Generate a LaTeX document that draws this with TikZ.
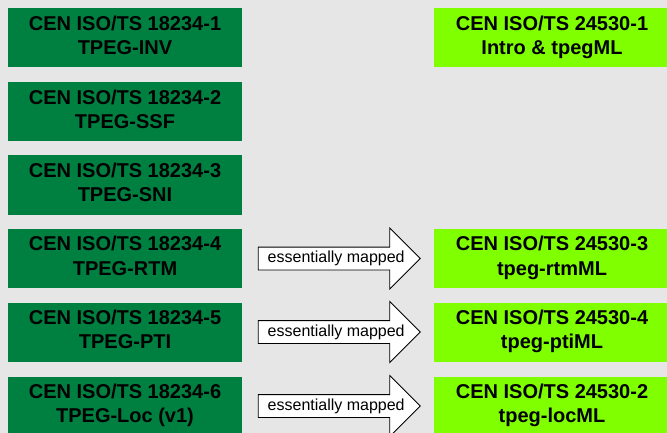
\documentclass[tikz,border=0pt]{standalone}
\usepackage{fontspec}
\setmainfont{Liberation Sans}
\usetikzlibrary{shapes.arrows,calc}
\definecolor{bggray}{RGB}{230,230,230}
\definecolor{dkgreen}{RGB}{0,128,64}
\definecolor{ltgreen}{RGB}{128,255,0}
\newcommand{\bxstrut}{\rule[-5.3pt]{0pt}{15pt}}
\begin{document}
\begin{tikzpicture}[x=1pt,y=-1pt,
  box/.style={rectangle, minimum width=234pt, minimum height=59pt, inner sep=0pt, align=center, font=\fontsize{20}{24.3}\selectfont\bfseries, text=black},
  oldbox/.style={box, fill=dkgreen},
  newbox/.style={box, fill=ltgreen, minimum width=236pt},
  maparrow/.style={single arrow, draw=black, line width=0.8pt, fill=white, inner ysep=11pt, inner xsep=0pt, outer sep=0pt, single arrow head extend=19pt, single arrow tip angle=90, minimum height=162pt, anchor=tail},
  maptext/.style={font=\fontsize{16}{18}\selectfont, inner sep=0pt, text=black}]
\useasboundingbox (0,0) rectangle (667,433);
\clip (0,0) rectangle (667,433);
\fill[bggray] (0,0) rectangle (667,433);

\node[oldbox] (l1) at (125,38) {\bxstrut CEN ISO/TS 18234-1\\TPEG-INV\bxstrut};
\node[oldbox] (l2) at (125,112) {\bxstrut CEN ISO/TS 18234-2\\TPEG-SSF\bxstrut};
\node[oldbox] (l3) at (125,185) {\bxstrut CEN ISO/TS 18234-3\\TPEG-SNI\bxstrut};
\node[oldbox] (l4) at (125,258.5) {\bxstrut CEN ISO/TS 18234-4\\TPEG-RTM\bxstrut};
\node[oldbox] (l5) at (125,332) {\bxstrut CEN ISO/TS 18234-5\\TPEG-PTI\bxstrut};
\node[oldbox] (l6) at (125,406) {\bxstrut CEN ISO/TS 18234-6\\TPEG-Loc (v1)\bxstrut};

\node[newbox] (r1) at (552,38) {\bxstrut CEN ISO/TS 24530-1\\Intro \& tpegML\bxstrut};
\node[newbox] (r4) at (552,258.5) {\bxstrut CEN ISO/TS 24530-3\\tpeg-rtmML\bxstrut};
\node[newbox] (r5) at (552,332) {\bxstrut CEN ISO/TS 24530-4\\tpeg-ptiML\bxstrut};
\node[newbox] (r6) at (552,406) {\bxstrut CEN ISO/TS 24530-2\\tpeg-locML\bxstrut};

\node[maparrow] (a4) at ($(l4.east)+(16,0)$) {};
\node[maptext] (t4) at ($(a4.tail)+(78,0)$) {essentially mapped};
\node[maparrow] (a5) at ($(l5.east)+(16,0)$) {};
\node[maptext] (t5) at ($(a5.tail)+(78,0)$) {essentially mapped};
\node[maparrow] (a6) at ($(l6.east)+(16,0)$) {};
\node[maptext] (t6) at ($(a6.tail)+(78,0)$) {essentially mapped};
\end{tikzpicture}
\end{document}
